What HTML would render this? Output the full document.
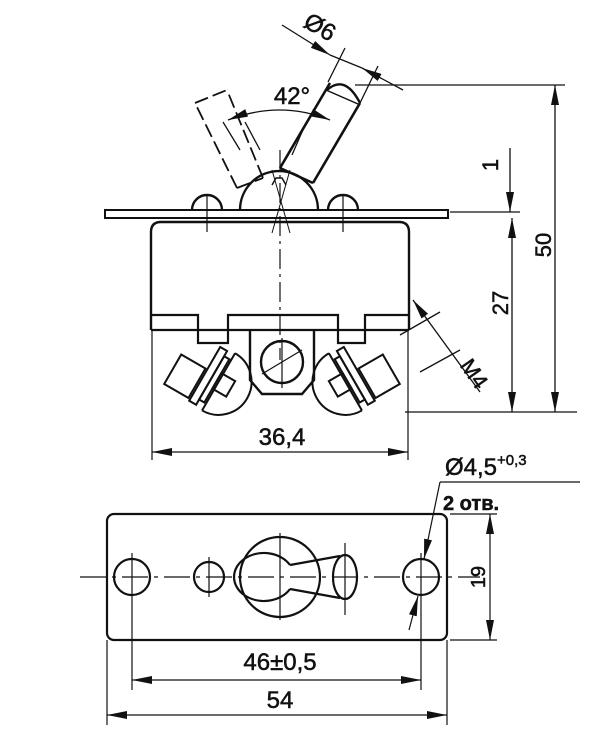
<!DOCTYPE html>
<html><head><meta charset="utf-8"><style>
html,body{margin:0;padding:0;background:#fff}
svg{display:block}
text{font-family:"Liberation Sans",sans-serif;fill:#111;stroke:#111;stroke-width:0.5}
</style></head><body>
<svg width="600" height="732" viewBox="0 0 600 732" xmlns="http://www.w3.org/2000/svg">
<defs>
<marker id="a" viewBox="0 0 20 8" refX="20" refY="4" markerWidth="20" markerHeight="8" markerUnits="userSpaceOnUse" orient="auto-start-reverse">
<path d="M0,0 L20,4 L0,8 z" fill="#111"/></marker>
</defs>
<g fill="none" stroke="#111" stroke-width="2.4">
<rect x="105" y="210" width="343" height="8" stroke-width="2"/>
<path d="M192,210 A15,15 0 0 1 222,210"/>
<path d="M328,210 A15,15 0 0 1 358,210"/>
<path d="M240,210 A39,39 0 0 1 318,210"/>
<path d="M151,330 V232 Q151,222 161,222 H399 Q409,222 409,232 V330"/>
<path d="M151,315 H198 V330 M151,330 H198 M228,330 V315 H338 V330 M365,330 V315 H409 M151,330 H409" stroke-width="2.2"/>
<path d="M198,330 V343 H228 V330 M338,330 V343 H365 V330" stroke-width="2.2"/>
<path d="M250,330 V380 L262,394 H302 L314,380 V330"/>
<circle cx="282" cy="362" r="21"/>
<path d="M280,168 L330,83 M313,183 L360,103 M280,168 L313,183" stroke-width="2.6"/>
<path d="M327,90 Q345,74 360,103"/>
<path d="M326,90 L358,104" stroke-width="1.5"/>
<path d="M272,185 L276,178 L282,178 L286,185" stroke-width="1.5"/>
<path d="M237,188 L195,103 M263,178 L227,90 M195,103 L227,90 M237,188 L263,178" stroke-dasharray="14,5" stroke-width="1.8"/>
<path d="M223,122 L240,150 M245,122 L260,150 M305,125 L292,155" stroke-width="1.3"/>
</g>
<g fill="none" stroke="#111" stroke-width="2">
<g transform="rotate(-60 200 370)">
<rect x="170" y="346" width="34" height="28"/>
<rect x="168" y="376" width="62" height="8"/>
<rect x="174" y="384" width="50" height="6"/>
<rect x="190" y="390" width="18" height="16"/>
<path d="M166,392 A33,33 0 0 0 232,392 M232,392 H166"/>
</g>
<g transform="translate(564,0) scale(-1,1)">
<g transform="rotate(-60 200 370)">
<rect x="170" y="346" width="34" height="28"/>
<rect x="168" y="376" width="62" height="8"/>
<rect x="174" y="384" width="50" height="6"/>
<rect x="190" y="390" width="18" height="16"/>
<path d="M166,392 A33,33 0 0 0 232,392 M232,392 H166"/>
</g></g>
</g>
<g stroke="#111" stroke-width="1.2" fill="none">
<path d="M280,150 V360" stroke-dasharray="20,5,3,5"/>
<path d="M272,170 L290,233 M290,170 L272,233" stroke-width="1"/>
<path d="M207,196 V232 M343,196 V232"/>
<path d="M282,338 V388 M262,374 L302,350"/>
<path d="M152,330 V460 M408,330 V460"/>
</g>
<g stroke="#111" stroke-width="1.3" fill="none">
<path d="M228,120 Q280,100 330,120" marker-start="url(#a)" marker-end="url(#a)"/>
<path d="M282,25 L330,55" marker-end="url(#a)"/>
<path d="M403,90 L362,68" marker-end="url(#a)"/>
<path d="M330,55 L362,68"/>
<path d="M328,82 L345,48 M360,103 L378,66"/>
<path d="M355,85 H565 M450,212 H520 M405,412 H577"/>
<path d="M555,85 V412" marker-start="url(#a)" marker-end="url(#a)"/>
<path d="M510,148 V212" marker-end="url(#a)"/>
<path d="M512,218 V412" marker-start="url(#a)" marker-end="url(#a)"/>
<path d="M152,452 H408" marker-start="url(#a)" marker-end="url(#a)"/>
<path d="M413,300 L480,392" marker-start="url(#a)"/>
<path d="M400,335 L440,312 M420,372 L460,350"/>
</g>
<text x="292" y="104" font-size="24" text-anchor="middle">42°</text>
<text transform="translate(316,34) rotate(30)" font-size="24" text-anchor="middle">Ø6</text>
<text transform="translate(551,245) rotate(-90)" font-size="22" text-anchor="middle">50</text>
<text transform="translate(508,303) rotate(-90)" font-size="22" text-anchor="middle">27</text>
<text transform="translate(498,165) rotate(-90)" font-size="22" text-anchor="middle">1</text>
<text transform="translate(468,378) rotate(55)" font-size="22" text-anchor="middle">M4</text>
<text x="282" y="445" font-size="24" text-anchor="middle">36,4</text>
<g fill="none" stroke="#111" stroke-width="2.2">
<rect x="107" y="514" width="340" height="126" rx="7"/>
<circle cx="132" cy="577" r="18"/>
<circle cx="209" cy="577" r="15"/>
<circle cx="421" cy="577" r="18"/>
<circle cx="280" cy="577" r="40"/>
<path d="M290,565 A30,24 0 1 0 290,589"/>
<path d="M290,565 L340,556 M290,589 L340,598"/>
<ellipse cx="345" cy="577" rx="12" ry="22"/>
</g>
<g stroke="#111" stroke-width="1.2" fill="none">
<path d="M80,577 H480" stroke-dasharray="26,6,4,6"/>
<path d="M132,553 V690 M209,557 V597 M280,533 V620 M345,543 V615 M421,553 V690 M107,640 V725 M447,640 V725"/>
<path d="M132,680 H421" marker-start="url(#a)" marker-end="url(#a)"/>
<path d="M107,715 H447" marker-start="url(#a)" marker-end="url(#a)"/>
<path d="M450,514 H497 M450,640 H497"/>
<path d="M490,514 V640" marker-start="url(#a)" marker-end="url(#a)"/>
<path d="M440,482 H580"/>
<path d="M440,482 L424,559" marker-end="url(#a)"/>
<path d="M409,630 L418,596" marker-end="url(#a)"/>
</g>
<text x="445" y="475" font-size="24">Ø4,5<tspan font-size="15" dy="-10">+0,3</tspan></text>
<text x="443" y="510" font-size="20" font-weight="bold">2 отв.</text>
<text transform="translate(485,577) rotate(-90)" font-size="20" text-anchor="middle">19</text>
<text x="280" y="670" font-size="24" text-anchor="middle">46±0,5</text>
<text x="280" y="708" font-size="24" text-anchor="middle">54</text>
</svg>
</body></html>
